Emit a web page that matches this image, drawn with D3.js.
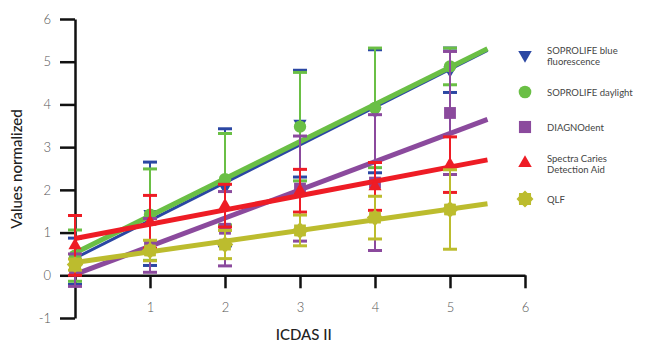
<!DOCTYPE html>
<html>
<head>
<meta charset="utf-8">
<script src="https://cdn.jsdelivr.net/npm/d3@7"></script>
<style>
  body { margin: 0; background: #fff; }
  svg text { font-family: Lato, "Open Sans", sans-serif; }
</style>
</head>
<body>
<div id="chart"></div>
<script>
// ICDAS II scores (x) and tick labels
const icdas = [0, 1, 2, 3, 4, 5];
const xTicks = [1, 2, 3, 4, 5, 6];
const yTicks = [-1, 0, 1, 2, 3, 4, 5, 6];

const seriesNames = ['SOPROLIFE blue fluorescence', 'SOPROLIFE daylight', 'DIAGNOdent',
    'Spectra Caries Detection Aid', 'QLF'];
const legendLines = [['SOPROLIFE blue', 'fluorescence'], ['SOPROLIFE daylight'], ['DIAGNOdent'],
    ['Spectra Caries', 'Detection Aid'], ['QLF']];

// means and error bar half-widths per method
const blueMeans = [0.33, 1.44, 2.06, 3.55, 3.84, 4.80];
const blueErr = [0.54, 1.21, 1.37, 1.25, 1.44, 0.52];
const greenMeans = [0.46, 1.42, 2.25, 3.48, 3.92, 4.89];
const greenErr = [0.60, 1.07, 1.07, 1.27, 1.40, 0.43];
const purpleMeans = [0.12, 0.70, 1.09, 2.03, 2.17, 3.80];
const purpleErr = [0.38, 0.63, 0.87, 1.23, 1.59, 1.44];
const redMeans = [0.70, 1.25, 1.63, 1.98, 2.08, 2.59];
const redErr = [0.70, 0.62, 0.50, 0.50, 0.56, 0.65];
const yellowMeans = [0.25, 0.58, 0.72, 1.05, 1.35, 1.54];
const yellowErr = [0.13, 0.24, 0.33, 0.36, 0.50, 0.93];

// linear fits (intercept, slope), drawn from x=0 to x=5.5
const fitIntercepts = [0.40, 0.52, 0.02, 0.86, 0.30];
const fitSlopes = [0.885, 0.87, 0.66, 0.335, 0.25];
const fitRange = [0, 5.5];

const colors = ['#2b47a3', '#6abf45', '#8b4a9d', '#ee1c25', '#bcbc2e'];
const lineWidths = [3, 5, 5, 5, 5];

const width = 650;
const height = 350;

// 8 point "seal" marker used for QLF
const seal = {
    draw(ctx, size) {
        const r = Math.sqrt(size) * 0.6;
        const ri = r * 0.78;
        const n = 8;
        for (let i = 0; i < 2 * n; i++) {
            const a = Math.PI * i / n - Math.PI / 2;
            const rr = i % 2 ? ri : r;
            if (i === 0) ctx.moveTo(rr * Math.cos(a), rr * Math.sin(a));
            else ctx.lineTo(rr * Math.cos(a), rr * Math.sin(a));
        }
        ctx.closePath();
    }
};

const symbols = [
    { type: d3.symbolTriangle, size: 75, rotate: 180 },
    { type: d3.symbolCircle, size: 120, rotate: 0 },
    { type: d3.symbolSquare, size: 140, rotate: 0 },
    { type: d3.symbolTriangle, size: 75, rotate: 0 },
    { type: seal, size: 190, rotate: 0 },
];

const means = [blueMeans, greenMeans, purpleMeans, redMeans, yellowMeans];
const errs = [blueErr, greenErr, purpleErr, redErr, yellowErr];

const series = seriesNames.map((name, i) => ({
    name,
    color: colors[i],
    symbol: symbols[i],
    points: icdas.map((x, j) => ({ x, y: means[i][j], e: errs[i][j] })),
    fit: fitRange.map(x => ({ x, y: fitIntercepts[i] + fitSlopes[i] * x })),
}));

const svg = d3.select('#chart')
    .append('svg')
    .attr('width', width)
    .attr('height', height);

const xScale = d3.scaleLinear().domain([0, 6]).range([75, 525]);
const yScale = d3.scaleLinear().domain([-1, 6]).range([318, 19]);

// axes
const xAxis = svg.append('g')
    .attr('transform', `translate(0,${yScale(0)})`)
    .call(d3.axisBottom(xScale).tickValues(xTicks).tickFormat(d => String(d))
        .tickSize(13).tickSizeOuter(0).tickPadding(14));

const yAxis = svg.append('g')
    .attr('transform', `translate(${xScale(0)},0)`)
    .call(d3.axisLeft(yScale).tickValues(yTicks).tickFormat(d => String(d))
        .tickSize(15).tickSizeOuter(0).tickPadding(9));

[xAxis, yAxis].forEach(ax => {
    ax.select('.domain').attr('stroke', '#111').attr('stroke-width', 2.5);
    ax.selectAll('.tick line').attr('stroke', '#111').attr('stroke-width', 2.5);
    ax.selectAll('.tick text')
        .attr('fill', '#555')
        .style('font-size', '13px')
        .style('font-weight', 300);
});

svg.append('text')
    .attr('x', xScale(3.05))
    .attr('y', 340)
    .attr('text-anchor', 'middle')
    .attr('fill', '#222')
    .style('font-size', '15px')
    .style('font-weight', 500)
    .text('ICDAS II');

svg.append('text')
    .attr('transform', 'translate(22,169) rotate(-90)')
    .attr('text-anchor', 'middle')
    .attr('fill', '#222')
    .style('font-size', '15px')
    .style('font-weight', 500)
    .text('Values normalized');

const line = d3.line()
    .x(d => xScale(d.x))
    .y(d => yScale(d.y));

const capW = 7;

series.forEach(s => {
    const g = svg.append('g');

    // error bars
    const bars = g.selectAll('.err')
        .data(s.points)
        .enter()
        .append('g');

    bars.append('line')
        .attr('x1', d => xScale(d.x))
        .attr('x2', d => xScale(d.x))
        .attr('y1', d => yScale(d.y + d.e))
        .attr('y2', d => yScale(d.y - d.e))
        .attr('stroke', s.color)
        .attr('stroke-width', 2);

    [1, -1].forEach(sign => {
        bars.append('line')
            .attr('x1', d => xScale(d.x) - capW)
            .attr('x2', d => xScale(d.x) + capW)
            .attr('y1', d => yScale(d.y + sign * d.e))
            .attr('y2', d => yScale(d.y + sign * d.e))
            .attr('stroke', s.color)
            .attr('stroke-width', 3);
    });

    // fitted line
    g.append('path')
        .datum(s.fit)
        .attr('d', line)
        .attr('fill', 'none')
        .attr('stroke', s.color)
        .attr('stroke-width', lineWidths[seriesNames.indexOf(s.name)]);

    // markers
    g.selectAll('.mark')
        .data(s.points)
        .enter()
        .append('path')
        .attr('d', d3.symbol().type(s.symbol.type).size(s.symbol.size))
        .attr('transform', d => `translate(${xScale(d.x)},${yScale(d.y)}) rotate(${s.symbol.rotate})`)
        .attr('fill', s.color);
});

// legend
const legendY = [55, 92, 127, 163, 199];
const legend = svg.append('g');

series.forEach((s, i) => {
    legend.append('path')
        .attr('d', d3.symbol().type(s.symbol.type).size(s.symbol.size * 1.05))
        .attr('transform', `translate(525,${legendY[i]}) rotate(${s.symbol.rotate})`)
        .attr('fill', s.color);

    const lines = legendLines[i];
    lines.forEach((l, k) => {
        legend.append('text')
            .attr('x', 547)
            .attr('y', legendY[i] + (lines.length > 1 ? -1.5 + k * 11 : 3.5))
            .attr('fill', '#444')
            .style('font-size', '9.5px')
            .text(l);
    });
});
</script>
</body>
</html>
